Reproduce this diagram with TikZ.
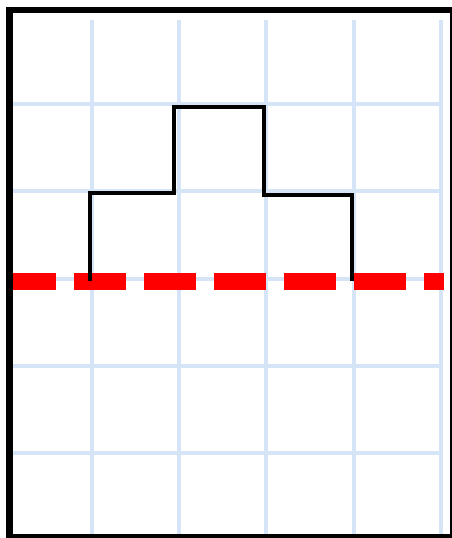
\documentclass[tikz,border=0pt]{standalone}
\definecolor{gridblue}{RGB}{214,228,247}
\begin{document}
\begin{tikzpicture}
    % picture area
    \useasboundingbox (-0.055,0.025) rectangle (5.128,6.195);
    \clip (-0.055,0.025) rectangle (5.128,6.195);

    \foreach \i in {1,...,5} {
        % vertical grid lines
        \draw[gridblue, line width=1.3pt] (\i, 0) -- (\i, 5.966);
        % horizontal grid lines
        \draw[gridblue, line width=1.3pt] (0.094, \i) -- (5.025, \i);
      }

    % red dashed line
    \draw[red, line width=5.5pt, dash pattern=on 0.596cm off 0.206cm, dash phase=0.103cm]
        (0.094, 2.97) -- (5.037, 2.97);

    % staircase
    \draw[line width=1.3pt] (0.98, 2.97) -- (0.98, 3.98) -- (1.94, 3.98) -- (1.94, 4.97)
        -- (2.97, 4.97) -- (2.97, 3.96) -- (3.98, 3.96) -- (3.98, 2.97);

    % frame
    \draw[line width=2pt] (0.054, 0.037) rectangle (5.14, 6.08);
  \end{tikzpicture}
\end{document}
